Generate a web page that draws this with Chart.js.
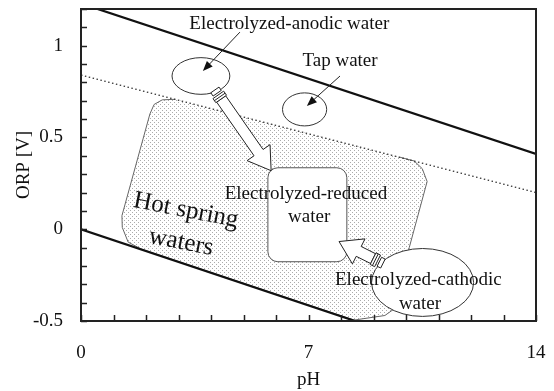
<!DOCTYPE html>
<html>
<head>
<meta charset="utf-8">
<script src="https://cdn.jsdelivr.net/npm/chart.js@4"></script>
<style>
body { margin: 0; background: #fff; }
canvas { display: block; }
</style>
</head>
<body>
<canvas id="mycanvas" width="554" height="391"></canvas>
<script>
// axis ranges and labelled ticks
var phRange = [0, 14];
var orpRange = [-0.5, 1.2];
var phLabels = [0, 7, 14];
var orpLabels = [-0.5, 0, 0.5, 1];

// boundary lines
var upperPH = [0, 14];
var upperORP = [1.23, 0.41];
var lowerPH = [0, 14];
var lowerORP = [0, -0.83];
var dottedPH = [0, 14];
var dottedORP = [0.84, 0.2];

// hot spring region outline
var springPH = [9.8, 10.25, 10.5, 10.65, 10.1, 9.75, 9.35, 8.4, 1.85, 1.45, 1.27, 1.26, 2.12, 2.25, 2.5, 2.9];
var springORP = [0.393, 0.372, 0.33, 0.26, -0.1, -0.42, -0.47, -0.495, -0.108, -0.07, 0.01, 0.074, 0.628, 0.68, 0.705, 0.708];

// waters: centre and half extent of each ellipse
var waterNames = ["anodic", "tap", "cathodic"];
var waterPH = [3.69, 6.88, 10.51];
var waterORP = [0.835, 0.653, -0.29];
var waterPHSpan = [0.89, 0.68, 1.57];
var waterORPSpan = [0.10, 0.09, 0.185];

// electrolyzed-reduced water box
var reducedPH = [5.75, 8.18];
var reducedORP = [-0.177, 0.335];

// big arrows, tail -> tip
var bigArrowPH = [[4.12, 5.85], [9.29, 7.94]];
var bigArrowORP = [[0.759, 0.319], [-0.187, -0.067]];
// small pointer arrows
var pointerPH = [[4.89, 3.75], [7.97, 6.95]];
var pointerORP = [[1.074, 0.862], [0.835, 0.672]];

// labels
var labelText = ["Electrolyzed-anodic water", "Tap water", "Electrolyzed-reduced", "water", "Electrolyzed-cathodic", "water"];
var labelPH = [6.41, 7.97, 6.92, 7.02, 10.38, 10.43];
var labelORP = [1.118, 0.917, 0.193, 0.069, -0.279, -0.409];
var springText = ["Hot spring", "waters"];
var springTextPH = [3.23, 3.08];
var springTextORP = [0.102, -0.072];

var FONT = '"Liberation Serif", "Times New Roman", serif';

function pts(xs, ys){
	var out = [];
	for(var i in xs){
		out.push({x: xs[i], y: ys[i]});
	}
	return out;
}

// stipple pattern for the hot spring area
var tile = document.createElement('canvas');
tile.width = 4; tile.height = 4;
var tctx = tile.getContext('2d');
tctx.fillStyle = '#ababab';
tctx.fillRect(0, 0, 1, 1);
tctx.fillRect(2, 2, 1, 1);
var canvas = document.getElementById('mycanvas');
var dots = canvas.getContext('2d').createPattern(tile, 'repeat');

function bigArrow(ctx, x0, y0, x1, y1){
	var dx = x1 - x0, dy = y1 - y0, len = Math.hypot(dx, dy);
	var ux = dx / len, uy = dy / len, nx = -uy, ny = ux;
	function p(s, t){ return [x0 + ux * s + nx * t, y0 + uy * s + ny * t]; }
	function poly(list){
		ctx.beginPath();
		ctx.moveTo(list[0][0], list[0][1]);
		for(var i = 1; i < list.length; i++) ctx.lineTo(list[i][0], list[i][1]);
		ctx.closePath();
		ctx.fill();
		ctx.stroke();
	}
	var w = 5.5, hw = 14, hl = 22, s0 = 11;
	ctx.fillStyle = '#fff';
	ctx.strokeStyle = '#222';
	ctx.lineWidth = 1;
	poly([p(s0, w), p(len - hl, w), p(len - hl, hw), p(len, 0), p(len - hl, -hw), p(len - hl, -w), p(s0, -w)]);
	poly([p(0, 5), p(4, 5), p(4, -5), p(0, -5)]);
	poly([p(6, 6.5), p(s0, 6.5), p(s0, -6.5), p(6, -6.5)]);
	ctx.beginPath();
	var a = p(8.5, 6.5), b = p(8.5, -6.5);
	ctx.moveTo(a[0], a[1]); ctx.lineTo(b[0], b[1]);
	ctx.stroke();
}

function pointer(ctx, x0, y0, x1, y1){
	var dx = x1 - x0, dy = y1 - y0, len = Math.hypot(dx, dy);
	var ux = dx / len, uy = dy / len;
	ctx.strokeStyle = '#222';
	ctx.fillStyle = '#111';
	ctx.lineWidth = 1;
	ctx.beginPath();
	ctx.moveTo(x0, y0);
	ctx.lineTo(x1 - ux * 6, y1 - uy * 6);
	ctx.stroke();
	ctx.beginPath();
	ctx.moveTo(x1, y1);
	ctx.lineTo(x1 - ux * 10 - uy * 4, y1 - uy * 10 + ux * 4);
	ctx.lineTo(x1 - ux * 10 + uy * 4, y1 - uy * 10 - ux * 4);
	ctx.closePath();
	ctx.fill();
}

var overlay = {
	id: 'overlay',
	afterDatasetsDraw: function(chart){
		var ctx = chart.ctx;
		var xs = chart.scales.x, ys = chart.scales.y;
		var area = chart.chartArea;
		function X(v){ return xs.getPixelForValue(v); }
		function Y(v){ return ys.getPixelForValue(v); }
		ctx.save();

		// reduced water box
		var l = X(reducedPH[0]), r = X(reducedPH[1]), t = Y(reducedORP[1]), b = Y(reducedORP[0]), rad = 10;
		ctx.beginPath();
		ctx.moveTo(l + rad, t);
		ctx.arcTo(r, t, r, b, rad);
		ctx.arcTo(r, b, l, b, rad);
		ctx.arcTo(l, b, l, t, rad);
		ctx.arcTo(l, t, r, t, rad);
		ctx.closePath();
		ctx.fillStyle = '#fff';
		ctx.fill();
		ctx.strokeStyle = '#555';
		ctx.lineWidth = 1;
		ctx.stroke();

		// ellipses
		for(var i in waterNames){
			var cx = X(waterPH[i]), cy = Y(waterORP[i]);
			var rx = Math.abs(X(waterPH[i] + waterPHSpan[i]) - cx);
			var ry = Math.abs(Y(waterORP[i] + waterORPSpan[i]) - cy);
			ctx.beginPath();
			ctx.ellipse(cx, cy, rx, ry, 0, 0, Math.PI * 2);
			ctx.fillStyle = '#fff';
			ctx.fill();
			ctx.strokeStyle = '#333';
			ctx.lineWidth = 1;
			ctx.stroke();
		}

		for(var i in bigArrowPH){
			bigArrow(ctx, X(bigArrowPH[i][0]), Y(bigArrowORP[i][0]), X(bigArrowPH[i][1]), Y(bigArrowORP[i][1]));
		}
		for(var i in pointerPH){
			pointer(ctx, X(pointerPH[i][0]), Y(pointerORP[i][0]), X(pointerPH[i][1]), Y(pointerORP[i][1]));
		}

		// labels
		ctx.fillStyle = '#111';
		ctx.textAlign = 'center';
		ctx.textBaseline = 'middle';
		ctx.font = '19px ' + FONT;
		for(var i in labelText){
			ctx.fillText(labelText[i], X(labelPH[i]), Y(labelORP[i]));
		}
		ctx.font = '25px ' + FONT;
		for(var i in springText){
			ctx.save();
			ctx.translate(X(springTextPH[i]), Y(springTextORP[i]));
			ctx.rotate(11 * Math.PI / 180);
			ctx.fillText(springText[i], 0, 0);
			ctx.restore();
		}

		// frame
		ctx.strokeStyle = '#222';
		ctx.lineWidth = 2;
		ctx.strokeRect(area.left, area.top, area.right - area.left, area.bottom - area.top);

		// inward tick marks
		ctx.lineWidth = 1.5;
		ctx.beginPath();
		xs.ticks.forEach(function(tk){
			var x = Math.round(X(tk.value)) + 0.5;
			ctx.moveTo(x, area.bottom);
			ctx.lineTo(x, area.bottom - 6);
		});
		ys.ticks.forEach(function(tk){
			var y = Math.round(Y(tk.value)) + 0.5;
			ctx.moveTo(area.left, y);
			ctx.lineTo(area.left + 6, y);
		});
		ctx.stroke();
		ctx.restore();
	}
};

var LineGraph = new Chart(canvas, {
	type: 'line',
	data: {
		datasets: [
		{
			label: "upper",
			data: pts(upperPH, upperORP),
			borderColor: "#111",
			borderWidth: 2.2,
			pointRadius: 0,
			fill: false,
			order: 1
		},
		{
			label: "lower",
			data: pts(lowerPH, lowerORP),
			borderColor: "#111",
			borderWidth: 2.2,
			pointRadius: 0,
			fill: false,
			order: 1
		},
		{
			label: "dotted",
			data: pts(dottedPH, dottedORP),
			borderColor: "#333",
			borderWidth: 1.2,
			borderDash: [1.5, 2.5],
			pointRadius: 0,
			fill: false,
			order: 2
		},
		{
			label: "Hot spring waters",
			data: pts(springPH, springORP),
			borderColor: "#666",
			borderWidth: 1,
			backgroundColor: dots,
			pointRadius: 0,
			fill: 'shape',
			order: 10
		}
		]
	},
	options: {
		responsive: false,
		animation: false,
		devicePixelRatio: 1,
		events: [],
		layout: { padding: { top: 9, right: 18, left: 0, bottom: 0 } },
		plugins: {
			legend: { display: false },
			tooltip: { enabled: false }
		},
		scales: {
			x: {
				type: 'linear',
				min: phRange[0],
				max: phRange[1],
				grid: { display: false, drawTicks: false },
				border: { display: false },
				ticks: {
					stepSize: 1,
					autoSkip: false,
					maxRotation: 0,
					padding: 21,
					color: '#111',
					font: { family: FONT, size: 19 },
					callback: function(v){ return phLabels.indexOf(v) >= 0 ? String(v) : ''; }
				},
				title: {
					display: true,
					text: 'pH',
					color: '#111',
					font: { family: FONT, size: 19 },
					padding: { top: 0, bottom: 0 }
				},
				afterFit: function(s){ s.height = 70; s.paddingLeft = 0; s.paddingRight = 0; }
			},
			y: {
				type: 'linear',
				min: orpRange[0],
				max: orpRange[1],
				grid: { display: false, drawTicks: false },
				border: { display: false },
				ticks: {
					stepSize: 0.1,
					autoSkip: false,
					padding: 18,
					color: '#111',
					font: { family: FONT, size: 19 },
					callback: function(v){
						for(var i in orpLabels){
							if(Math.abs(v - orpLabels[i]) < 1e-6) return String(orpLabels[i]);
						}
						return '';
					}
				},
				title: {
					display: true,
					text: 'ORP [V]',
					color: '#111',
					font: { family: FONT, size: 19 },
					padding: { top: 13, bottom: 0 }
				},
				afterFit: function(s){ s.width = 81; s.paddingTop = 0; s.paddingBottom = 0; }
			}
		}
	},
	plugins: [overlay]
});
</script>
</body>
</html>
